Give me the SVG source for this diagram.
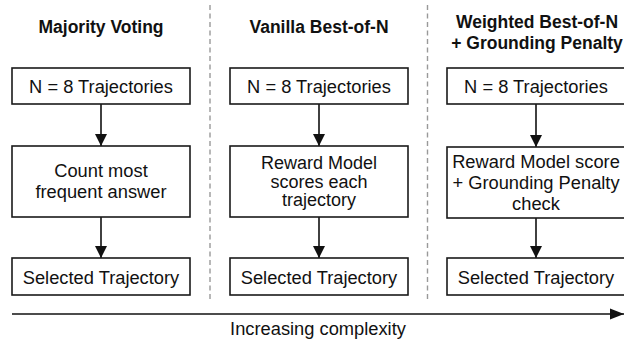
<svg xmlns="http://www.w3.org/2000/svg" width="624" height="341" viewBox="0 0 624 341">
  <defs>
    <marker id="arrow" viewBox="0 0 12 14" refX="12" refY="7" markerWidth="12" markerHeight="14" markerUnits="userSpaceOnUse" orient="auto">
      <path d="M0,1 L12,7 L0,13 Z" fill="#111"/>
    </marker>
    <marker id="axis-arrow" viewBox="0 0 14 12" refX="14" refY="6" markerWidth="14" markerHeight="12" markerUnits="userSpaceOnUse" orient="auto">
      <path d="M0,0.5 L14,6 L0,11.5 Z" fill="#111"/>
    </marker>
  </defs>
  <style>
    .box { fill: #fff; stroke: #1a1a1a; stroke-width: 1.6; }
    .label { font-family: "Liberation Sans", Arial, sans-serif; font-size: 18.3px; fill: #111; text-anchor: middle; }
    .tight { font-size: 18px; }
    .title { font-family: "Liberation Sans", Arial, sans-serif; font-size: 17.5px; font-weight: bold; fill: #111; text-anchor: middle; }
    .edge { stroke: #111; stroke-width: 1.6; fill: none; marker-end: url(#arrow); }
    .divider { stroke: #999; stroke-width: 1.4; stroke-dasharray: 5 3.5; }
  </style>

  <rect width="624" height="341" fill="#fff"/>

  <!-- column separators -->
  <g id="dividers">
    <line class="divider" x1="210" y1="5" x2="210" y2="300"/>
    <line class="divider" x1="427.5" y1="5" x2="427.5" y2="300"/>
  </g>

  <!-- column headings -->
  <g id="headings">
    <text class="title" x="101" y="33">Majority Voting</text>
    <text class="title" x="319" y="33">Vanilla Best-of-N</text>
    <text class="title" x="537" y="28">Weighted Best-of-N</text>
    <text class="title" x="537" y="49">+ Grounding Penalty</text>
  </g>

  <!-- connectors -->
  <g id="connectors">
    <line class="edge" x1="101" y1="104" x2="101" y2="146"/>
    <line class="edge" x1="101" y1="217" x2="101" y2="258"/>
    <line class="edge" x1="319" y1="104" x2="319" y2="146"/>
    <line class="edge" x1="319" y1="217" x2="319" y2="258"/>
    <line class="edge" x1="536" y1="104" x2="536" y2="147"/>
    <line class="edge" x1="536" y1="218" x2="536" y2="258"/>
  </g>

  <!-- column 1: majority voting -->
  <g id="mv-input">
    <rect class="box" x="12" y="68" width="178" height="36"/>
    <text class="label" x="101" y="93">N = 8 Trajectories</text>
  </g>
  <g id="mv-count">
    <rect class="box" x="12" y="146" width="178" height="71"/>
    <text class="label" x="101" y="177">Count most</text>
    <text class="label" x="101" y="198">frequent answer</text>
  </g>
  <g id="mv-output">
    <rect class="box" x="12" y="258" width="178" height="37"/>
    <text class="label" x="101" y="284">Selected Trajectory</text>
  </g>

  <!-- column 2: vanilla best-of-n -->
  <g id="bon-input">
    <rect class="box" x="230" y="68" width="178" height="36"/>
    <text class="label" x="319" y="93">N = 8 Trajectories</text>
  </g>
  <g id="bon-score">
    <rect class="box" x="230" y="146" width="178" height="71"/>
    <text class="label tight" x="319" y="168.5">Reward Model</text>
    <text class="label tight" x="319" y="187.5">scores each</text>
    <text class="label tight" x="319" y="206">trajectory</text>
  </g>
  <g id="bon-output">
    <rect class="box" x="230" y="258" width="178" height="37"/>
    <text class="label" x="319" y="284">Selected Trajectory</text>
  </g>

  <!-- column 3: weighted best-of-n with grounding penalty -->
  <g id="wbon-input">
    <rect class="box" x="447" y="68" width="178" height="36"/>
    <text class="label" x="536" y="93">N = 8 Trajectories</text>
  </g>
  <g id="wbon-score">
    <rect class="box" x="447" y="147" width="178" height="71"/>
    <text class="label" x="536" y="168">Reward Model score</text>
    <text class="label" x="536" y="189">+ Grounding Penalty</text>
    <text class="label" x="536" y="210">check</text>
  </g>
  <g id="wbon-output">
    <rect class="box" x="447" y="258" width="178" height="37"/>
    <text class="label" x="536" y="284">Selected Trajectory</text>
  </g>

  <!-- complexity axis -->
  <g id="axis">
    <line x1="12" y1="314" x2="624" y2="314" stroke="#111" stroke-width="1.6" marker-end="url(#axis-arrow)"/>
    <text class="label" x="318" y="335">Increasing complexity</text>
  </g>
</svg>
